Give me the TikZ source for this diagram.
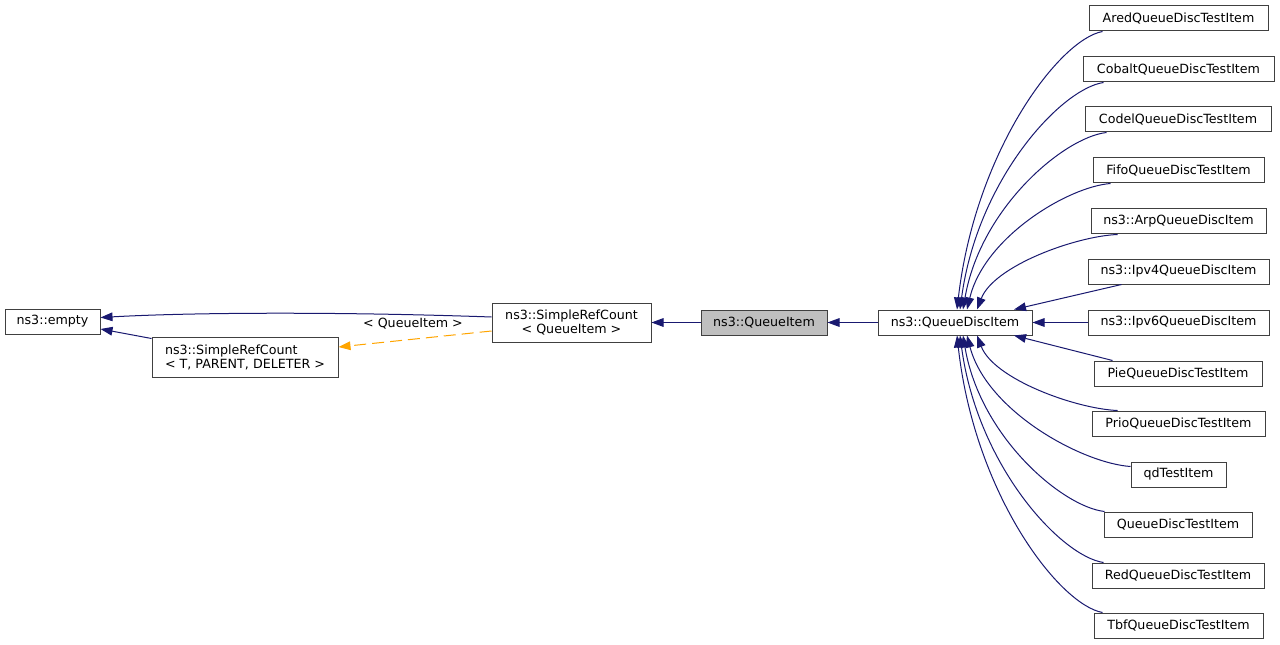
\documentclass[tikz,border=0pt]{standalone}
\usepackage{fontspec}
\setmainfont{DejaVu Sans}
\usetikzlibrary{arrows.meta}
\definecolor{edgeblue}{HTML}{191970}
\definecolor{edgeorange}{HTML}{FFA500}
\definecolor{boxgray}{HTML}{BFBFBF}
\newlength{\pxu}\setlength{\pxu}{0.75pt}
\begin{document}
\begin{tikzpicture}[x=0.75pt,y=-0.75pt,
  cls/.style={draw=black!75, line width=0.75pt, fill=white, inner sep=0pt,
    minimum height=25*\pxu, font=\fontsize{9.5pt}{10.5pt}\selectfont, align=center},
  inh/.style={draw=edgeblue, line width=0.75pt, -{Triangle[length=9pt,width=6.5pt]}},
  tmpl/.style={draw=edgeorange, line width=0.75pt, dash pattern=on 9pt off 4.5pt,
    -{Triangle[length=9pt,width=6.5pt]}},
  lbl/.style={font=\fontsize{9.5pt}{10.5pt}\selectfont, inner sep=0pt}
]
\fill[white] (0,0) rectangle (1280,645);
\useasboundingbox (0,0) rectangle (1280,645);

% left part
\node[cls, minimum width=95*\pxu] (empty) at (52.5,321.5) {ns3::empty};
\node[cls, minimum width=186*\pxu, minimum height=40*\pxu, align=left] (srcT) at (245,357)
  {ns3::SimpleRefCount\\< T, PARENT, DELETER >};
\node[cls, minimum width=159*\pxu, minimum height=39*\pxu] (srcQ) at (571.5,322.5)
  {ns3::SimpleRefCount\\< QueueItem >};
\node[cls, fill=boxgray, minimum width=126*\pxu] (qi) at (764,322.5) {ns3::QueueItem};
\node[cls, minimum width=154*\pxu] (qdi) at (955,322.5) {ns3::QueueDiscItem};

% right column
\node[cls, minimum width=179*\pxu] (ared)   at (1178.5,18.5)  {AredQueueDiscTestItem};
\node[cls, minimum width=191*\pxu] (cobalt) at (1178.5,69.5)  {CobaltQueueDiscTestItem};
\node[cls, minimum width=186*\pxu] (codel)  at (1178,119.5)   {CodelQueueDiscTestItem};
\node[cls, minimum width=171*\pxu] (fifo)   at (1178.5,170.5) {FifoQueueDiscTestItem};
\node[cls, minimum width=175*\pxu] (arp)    at (1178.5,221.5) {ns3::ArpQueueDiscItem};
\node[cls, minimum width=181*\pxu] (ipv4)   at (1178.5,271.5) {ns3::Ipv4QueueDiscItem};
\node[cls, minimum width=181*\pxu] (ipv6)   at (1178.5,322.5) {ns3::Ipv6QueueDiscItem};
\node[cls, minimum width=168*\pxu] (pie)    at (1178,373.5)   {PieQueueDiscTestItem};
\node[cls, minimum width=173*\pxu] (prio)   at (1178.5,423.5) {PrioQueueDiscTestItem};
\node[cls, minimum width=95*\pxu]  (qd)     at (1178.5,474.5) {qdTestItem};
\node[cls, minimum width=148*\pxu] (qdti)   at (1178,524.5)   {QueueDiscTestItem};
\node[cls, minimum width=172*\pxu] (red)    at (1178,575.5)   {RedQueueDiscTestItem};
\node[cls, minimum width=169*\pxu] (tbf)    at (1178.5,625.5) {TbfQueueDiscTestItem};

% left edges
\draw[inh] ([yshift=5.5*\pxu]srcQ.west) .. controls (350,312) and (200,312) .. ([yshift=4*\pxu]empty.east);
\draw[inh] ([yshift=-2*\pxu]srcT.north west) -- ([yshift=-7.5*\pxu]empty.east);
\draw[tmpl] ([yshift=-8.5*\pxu]srcQ.west) -- ([yshift=10*\pxu]srcT.east);
\node[lbl] (lq) at (413,324) {< QueueItem >};
\draw[inh] (qi) -- (srcQ);
\draw[inh] (qdi) -- (qi);

% upper children
\draw[inh] ([xshift=14*\pxu]ared.south west) .. controls (1059.5,39.3) and (975.4,150.5) .. ([xshift=2*\pxu]qdi.north);
\draw[inh] ([xshift=21*\pxu]cobalt.south west) .. controls (1060.8,88.8) and (977.3,179.6) .. ([xshift=5*\pxu]qdi.north);
\draw[inh] ([xshift=22*\pxu]codel.south west) .. controls (1063.8,137.3) and (980.3,208.1) .. ([xshift=8*\pxu]qdi.north);
\draw[inh] ([xshift=18*\pxu]fifo.south west) .. controls (1067.8,186.8) and (984.3,237.2) .. ([xshift=12*\pxu]qdi.north);
\draw[inh] ([xshift=27*\pxu]arp.south west) .. controls (1075.7,236.2) and (993.9,265.8) .. ([xshift=22*\pxu]qdi.north);
\draw[inh] ([xshift=34*\pxu]ipv4.south west) -- ([xshift=59*\pxu]qdi.north);
\draw[inh] (ipv6) -- (qdi);
% lower children
\draw[inh] ([xshift=19*\pxu]pie.north west) -- ([xshift=59*\pxu]qdi.south);
\draw[inh] ([xshift=26*\pxu]prio.north west) .. controls (1075.7,408.8) and (993.9,379.2) .. ([xshift=22*\pxu]qdi.south);
\draw[inh] ([yshift=-5*\pxu]qd.north west) .. controls (1081.8,463.1) and (986.7,411.1) .. ([xshift=12*\pxu]qdi.south);
\draw[inh] ([xshift=1*\pxu]qdti.north west) .. controls (1062.4,506.75) and (980,436.75) .. ([xshift=8*\pxu]qdi.south);
\draw[inh] ([xshift=12*\pxu]red.north west) .. controls (1060.8,556.2) and (977.3,465.8) .. ([xshift=5*\pxu]qdi.south);
\draw[inh] ([xshift=9*\pxu]tbf.north west) .. controls (1059.2,604.7) and (974.5,494.3) .. ([xshift=2*\pxu]qdi.south);
\end{tikzpicture}
\end{document}
